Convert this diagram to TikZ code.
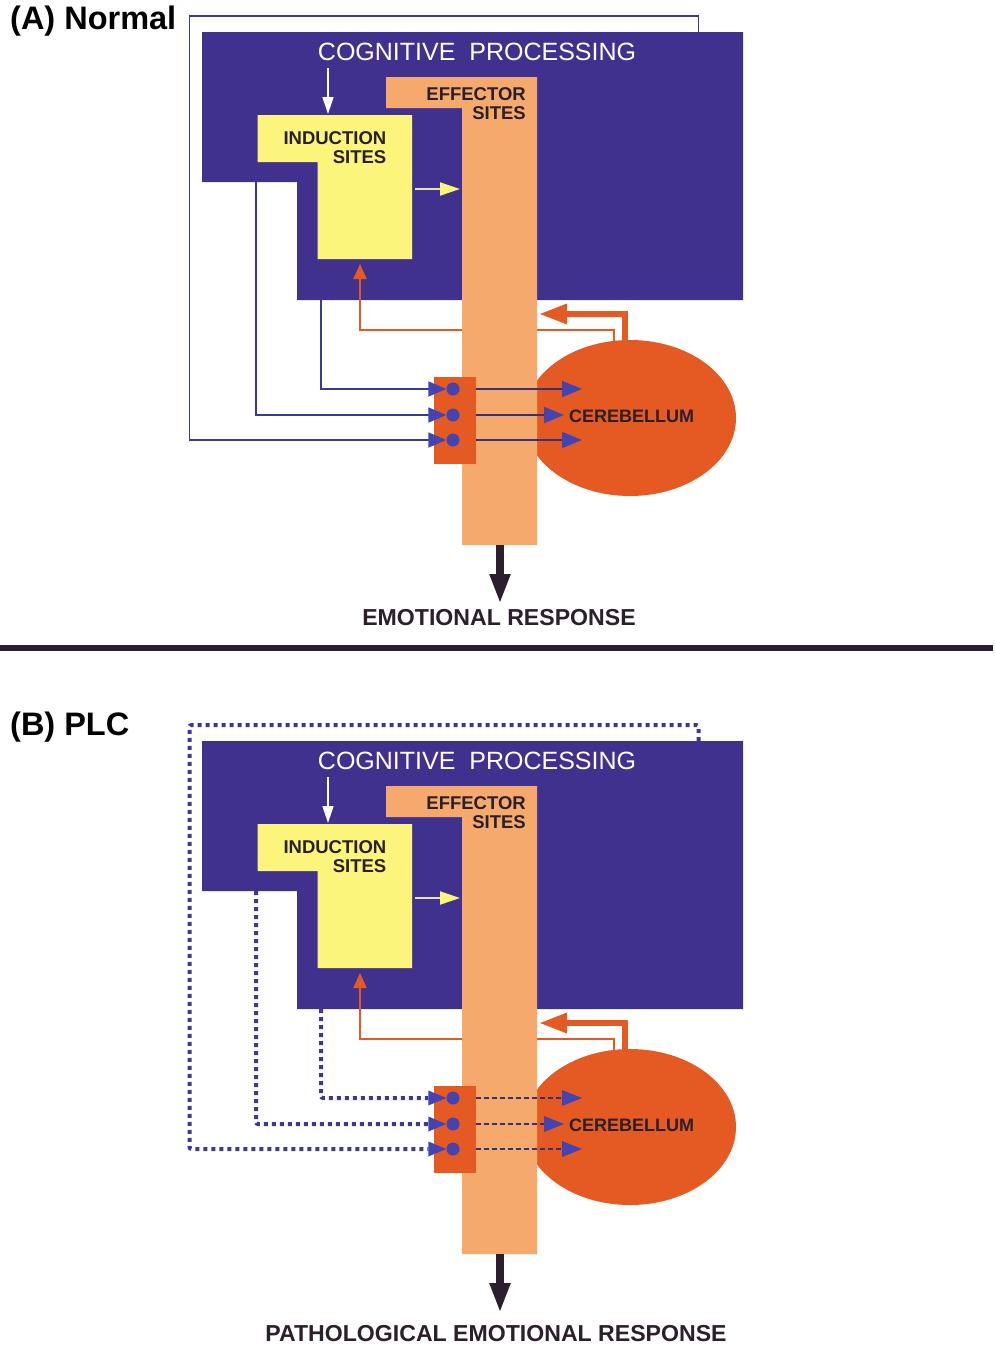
\documentclass[tikz,border=0pt]{standalone}
\usepackage{fontspec}
\setmainfont{Liberation Sans}
\usetikzlibrary{arrows.meta,shapes.geometric}
\definecolor{cogpurple}{HTML}{41318E}
\definecolor{indyellow}{HTML}{FBF57C}
\definecolor{efforange}{HTML}{F5A96C}
\definecolor{cerred}{HTML}{E45A22}
\definecolor{linkblue}{HTML}{3A3A96}
\definecolor{headblue}{HTML}{4343B2}
\definecolor{outblue}{HTML}{36307C}
\definecolor{darktext}{HTML}{2A1F2A}
\definecolor{blackarrow}{HTML}{2B1E2E}
\tikzset{
  x=1pt, y=-1pt,
  cogtext/.style={text=white, inner sep=0, font=\fontsize{25}{27}\selectfont},
  lbl/.style={text=darktext, inner sep=0, align=right, font=\bfseries\fontsize{18.5}{19}\selectfont},
  resp/.style={text=darktext, inner sep=0, font=\bfseries\fontsize{23.1}{25}\selectfont},
  paneltitle/.style={text=black, inner sep=0, anchor=west, font=\bfseries\fontsize{32.5}{34}\selectfont},
  whitearrow/.style={draw=white, line width=1.5pt, -{Triangle[length=17pt,width=11pt]}},
  yelarrow/.style={draw=indyellow!70!gray!60!white, line width=2pt, -{Triangle[length=20pt,width=13pt,color=indyellow,fill=indyellow]}},
  thinred/.style={draw=cerred, line width=2pt, -{Triangle[length=15pt,width=13pt]}},
  thickred/.style={draw=cerred, line width=6pt, -{Triangle[length=28pt,width=19pt]}},
  cerebellum/.style={ellipse, fill=cerred, inner sep=0, minimum width=212pt, minimum height=156pt},
  redbox/.style={rectangle, fill=cerred, inner sep=0, minimum width=42pt, minimum height=87pt},
  syndot/.style={circle, fill=headblue, inner sep=0, minimum size=13pt},
  insolid/.style={draw=linkblue, line width=1.8pt, -{Triangle[length=18pt,width=15pt,color=headblue,fill=headblue]}},
  indotted/.style={draw=linkblue, line width=4pt, dash pattern=on 4pt off 4pt, rounded corners=2pt, -{Triangle[length=18pt,width=15pt,color=headblue,fill=headblue,line width=0pt]}},
  outsolid/.style={draw=outblue, line width=1.8pt, -{Triangle[length=20pt,width=16pt,color=headblue,fill=headblue]}},
  outdashed/.style={draw=outblue, line width=1.5pt, dash pattern=on 5pt off 3pt, -{Triangle[length=20pt,width=16pt,color=headblue,fill=headblue,line width=0pt]}},
  respArrow/.style={draw=blackarrow, line width=8pt, -{Triangle[length=30pt,width=19pt]}},
}
% #1 prefix, #2 vertical offset, #3 input style, #4 output style
\newcommand\drawpanel[4]{%
\begin{scope}[shift={(0,#2)}]
  % cognitive processing
  \fill[cogpurple] (202,32) -- (743,32) -- (743,300) -- (297,300) -- (297,182) -- (202,182) -- cycle;
  % induction sites
  \fill[indyellow] (257.5,115) -- (412,115) -- (412,259) -- (317.5,259) -- (317.5,162) -- (257.5,162) -- cycle;
  \coordinate (#1cogsrc) at (328,68);
  \coordinate (#1indtop) at (328,114);
  \draw[whitearrow] (#1cogsrc) -- (#1indtop);
  \coordinate (#1indout) at (415,189);
  \coordinate (#1effin) at (460,189);
  \draw[yelarrow] (#1indout) -- (#1effin);
  % thin red feedback to induction sites
  \coordinate (#1thinsrc) at (614,346);
  \coordinate (#1indbot) at (360,264);
  \draw[thinred] (#1thinsrc) -- ++(0,-16) -| (#1indbot);
  % cerebellum
  \node[cerebellum] (#1cer) at (630,418) {};
  \coordinate (#1thicksrc) at (624.5,346);
  \coordinate (#1effright) at (539,314);
  \draw[thickred] (#1thicksrc) |- (#1effright);
  % effector sites
  \fill[efforange] (386,77) -- (537,77) -- (537,545) -- (462,545) -- (462,108) -- (386,108) -- cycle;
  \coordinate (#1effbot) at (500,545);
  % synapse box and dots
  \node[redbox] (#1box) at (454.5,420.5) {};
  \node[syndot] (#1d1) at (453,389) {};
  \node[syndot] (#1d2) at (453,415) {};
  \node[syndot] (#1d3) at (453,440) {};
  % inputs
  \coordinate (#1src1) at (321,300);
  \coordinate (#1src2) at (256,182);
  \coordinate (#1src3) at (698.5,32);
  \draw[#3] (#1src1) |- (#1d1.west);
  \draw[#3] (#1src2) |- (#1d2.west);
  \draw[#3] (#1src3) |- (189.5,16) |- (#1d3.west);
  % outputs
  \coordinate (#1o1) at (582,389);
  \coordinate (#1o2) at (564,415);
  \coordinate (#1o3) at (582,440);
  \draw[#4] (#1box.east |- #1d1) -- (#1o1);
  \draw[#4] (#1box.east |- #1d2) -- (#1o2);
  \draw[#4] (#1box.east |- #1d3) -- (#1o3);
  % labels
  \node[cogtext] (#1cog) at (477,52) {COGNITIVE\ \ PROCESSING};
  \node[lbl, anchor=east] (#1eff) at (526,103.5) {EFFECTOR\\SITES};
  \node[lbl, anchor=east] (#1ind) at (386.5,147.5) {INDUCTION\\SITES};
  \node[lbl, anchor=west, font=\bfseries\fontsize{18}{19}\selectfont] (#1cerlbl) at (569,416) {CEREBELLUM};
\end{scope}}

\begin{document}
\begin{tikzpicture}
  \useasboundingbox (0,0) rectangle (995,1347);
  \fill[white] (0,0) rectangle (995,1347);

  \node[paneltitle] (titleA) at (10,21) {(A) Normal};
  \drawpanel{A}{0}{insolid}{outsolid}
  \coordinate (Atip) at (500,604);
  \draw[respArrow] (Aeffbot) -- (Atip);
  \node[resp] (respA) at (499,618) {EMOTIONAL RESPONSE};

  \draw[blackarrow, line width=6pt] (0,648) -- (993,648);

  \node[paneltitle] (titleB) at (10,727) {(B) PLC};
  \drawpanel{B}{709}{indotted}{outdashed}
  \coordinate (Btip) at (500,1313);
  \draw[respArrow] (Beffbot) -- (Btip);
  \node[resp] (respB) at (496,1334) {PATHOLOGICAL EMOTIONAL RESPONSE};
\end{tikzpicture}
\end{document}
